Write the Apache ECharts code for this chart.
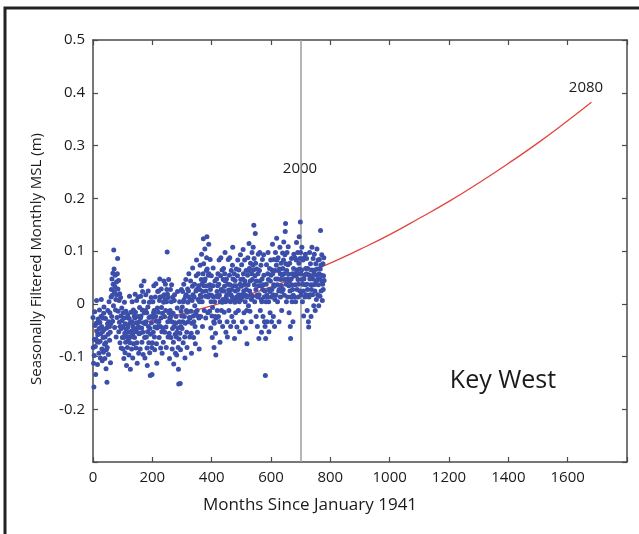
<!DOCTYPE html>
<html>
<head>
<meta charset="utf-8">
<script src="https://cdn.jsdelivr.net/npm/echarts@6/dist/echarts.min.js"></script>
<style>html,body{margin:0;padding:0;background:#fff;}#c{width:639px;height:534px;}</style>
</head>
<body>
<div id="c"></div>
<script>
// Seasonally filtered monthly MSL (m), month index 0 = January 1941
const mslMonthly = [
-0.026,-0.083,-0.113,-0.158,-0.098,-0.068,-0.015,-0.041,-0.081,-0.134,-0.067,-0.037,0.006,-0.052,-0.072,-0.115,-0.059,-0.029,-0.036,-0.073,
-0.094,-0.047,-0.012,-0.035,-0.071,-0.103,-0.057,-0.024,0.008,-0.043,-0.086,-0.108,-0.053,-0.027,-0.064,-0.092,-0.018,-0.006,-0.049,-0.077,
-0.104,-0.063,-0.028,-0.074,-0.123,-0.087,-0.046,-0.149,-0.083,-0.038,-0.013,-0.058,-0.096,-0.034,0.004,-0.043,-0.069,-0.017,-0.054,-0.112,
-0.038,0.013,0.027,-0.024,0.047,0.016,-0.033,0.058,0.037,-0.004,0.102,0.066,0.023,-0.045,0.032,0.054,-0.012,0.008,-0.063,0.041,
0.017,-0.026,0.057,0.086,0.028,-0.014,0.044,-0.053,0.006,-0.035,0.019,-0.074,-0.043,0.012,-0.023,-0.084,-0.047,-0.008,-0.032,-0.064,
-0.043,-0.086,-0.017,-0.064,-0.104,-0.027,0.003,-0.056,-0.093,-0.038,-0.073,-0.014,-0.048,-0.117,-0.062,-0.026,-0.083,-0.021,-0.044,-0.068,
-0.054,-0.097,-0.028,0.014,-0.037,-0.074,-0.124,-0.063,-0.016,-0.052,-0.086,-0.034,0.004,-0.058,-0.103,-0.043,-0.012,-0.076,-0.047,-0.023,
-0.064,-0.027,0.018,-0.016,-0.053,-0.084,-0.036,0.006,-0.074,-0.113,-0.047,-0.024,0.013,-0.043,-0.094,-0.057,-0.034,-0.007,-0.056,-0.086,
-0.027,0.014,-0.023,0.034,-0.046,-0.073,-0.012,0.023,-0.054,-0.096,-0.036,0.004,0.043,-0.017,-0.064,-0.103,-0.038,-0.013,0.017,-0.034,
-0.063,-0.017,-0.084,-0.117,-0.053,-0.006,0.024,-0.043,-0.074,-0.026,0.003,-0.093,-0.047,-0.136,-0.058,-0.024,0.012,-0.036,-0.083,-0.134,
-0.074,-0.026,0.004,-0.054,-0.017,0.034,-0.013,-0.063,-0.087,-0.044,0.013,-0.024,0.038,-0.033,-0.076,-0.113,-0.046,-0.008,0.023,-0.043,
-0.016,0.024,-0.034,-0.064,0.006,0.047,0.013,-0.043,-0.084,-0.027,0.028,-0.007,-0.053,-0.094,-0.018,0.014,-0.046,-0.073,0.003,0.043,
0.017,-0.024,-0.054,0.008,0.037,-0.013,-0.044,-0.083,0.004,0.027,0.098,0.018,-0.034,-0.063,0.012,0.046,-0.017,-0.056,-0.104,-0.027,
-0.013,0.027,-0.024,-0.064,0.004,0.036,-0.034,-0.086,-0.047,0.013,-0.018,-0.073,-0.114,-0.043,0.006,0.017,-0.036,-0.058,-0.094,-0.037,
-0.024,-0.063,-0.097,-0.054,-0.008,0.023,-0.046,-0.083,-0.124,-0.152,-0.067,-0.034,0.004,-0.056,-0.151,-0.087,-0.043,-0.014,0.027,-0.023,
-0.047,-0.006,0.023,-0.034,-0.074,0.004,0.037,0.008,-0.024,-0.063,-0.103,-0.037,0.014,0.046,0.017,-0.013,-0.054,-0.083,-0.016,0.028,
0.003,-0.034,0.024,0.057,0.013,-0.026,-0.063,-0.027,0.008,0.043,-0.014,-0.056,-0.094,-0.037,0.006,0.033,0.068,0.017,-0.023,-0.064,
-0.034,0.013,0.037,-0.004,-0.043,-0.076,-0.017,0.024,0.053,0.083,0.027,-0.013,-0.054,-0.023,0.008,0.057,0.034,-0.027,-0.086,0.004,
0.027,0.073,0.016,-0.024,0.013,0.046,0.094,0.037,0.004,-0.043,0.023,0.057,0.123,0.076,0.034,-0.013,0.043,0.104,0.047,0.014,
-0.027,0.024,0.063,0.087,0.127,0.066,0.034,-0.017,0.013,0.054,0.113,0.057,0.017,-0.014,0.036,0.084,0.027,-0.046,0.004,0.053,
0.016,-0.023,-0.064,-0.007,0.034,0.068,0.013,-0.034,-0.083,-0.037,0.004,0.043,-0.024,-0.056,-0.097,-0.027,0.014,0.047,0.023,-0.013,
0.034,0.057,0.013,-0.024,0.037,0.083,0.016,-0.034,-0.073,0.004,0.053,0.087,0.027,-0.013,0.024,0.064,0.003,-0.043,0.008,0.046,
0.067,0.024,-0.016,0.033,0.057,0.097,0.043,0.004,-0.054,0.013,0.047,0.017,-0.034,-0.063,0.006,0.037,0.084,0.026,-0.013,0.023,
0.054,0.087,0.036,0.004,-0.043,0.017,0.063,0.027,-0.024,0.013,0.073,0.107,0.047,0.008,-0.034,0.034,0.057,-0.066,0.003,0.044,
0.024,-0.017,0.034,0.066,0.013,-0.044,0.006,0.053,0.083,0.027,-0.013,0.017,0.064,0.004,-0.053,0.013,0.037,0.093,0.046,0.008,
0.033,0.074,0.017,-0.034,0.013,0.047,0.103,0.057,0.024,-0.017,0.036,0.083,0.043,0.004,-0.046,0.016,0.063,0.027,-0.013,-0.076,
0.013,0.054,0.087,0.036,-0.004,0.063,0.114,0.067,0.024,-0.014,0.043,0.077,0.017,-0.034,0.008,0.057,0.097,0.046,0.014,0.073,
0.107,0.064,0.149,0.086,0.036,0.004,0.053,0.133,0.077,0.027,-0.024,0.043,0.066,0.016,-0.043,0.013,0.057,0.094,0.034,-0.066,
0.017,0.063,0.097,0.043,-0.013,0.034,0.073,0.008,-0.054,0.004,0.047,0.084,0.027,-0.024,0.036,0.093,0.054,0.013,-0.034,0.024,
-0.043,-0.136,-0.066,0.004,0.037,0.074,0.016,-0.034,0.013,0.057,0.097,0.046,0.004,-0.053,0.027,0.067,0.023,-0.017,0.043,0.083,
0.054,0.013,-0.034,0.027,0.064,0.113,0.057,0.017,-0.024,0.036,0.084,0.033,-0.043,0.008,0.063,0.097,0.047,0.016,0.073,0.124,
0.083,0.036,0.004,0.047,0.087,0.063,0.024,-0.034,0.027,0.066,0.107,0.057,0.013,0.046,0.077,0.034,-0.013,0.023,0.054,0.096,
0.067,0.027,0.083,0.117,0.057,0.016,0.046,0.093,0.137,0.152,0.076,0.037,0.004,0.063,0.097,0.047,0.013,0.074,0.108,0.056,
0.034,-0.017,0.043,0.077,0.024,-0.043,-0.066,0.013,0.047,0.086,0.036,0.004,0.057,0.027,-0.034,0.016,0.067,0.094,0.053,0.013,
0.057,0.087,0.036,0.004,0.053,0.083,0.116,0.064,0.027,0.057,0.097,0.046,0.013,0.037,0.077,0.127,0.066,0.024,0.086,0.155,
0.097,0.057,0.017,0.064,0.107,0.046,0.004,0.037,0.083,0.024,-0.023,0.047,0.087,0.054,0.013,0.036,0.094,0.067,0.017,0.057,
0.086,0.037,-0.013,0.027,0.067,0.016,-0.034,-0.044,0.013,0.054,0.097,0.047,0.017,0.076,0.036,-0.024,0.027,0.064,0.107,0.053,
0.017,0.047,0.086,0.036,-0.004,0.057,0.094,0.064,0.024,-0.013,0.037,0.076,0.043,0.008,0.054,0.104,0.066,0.017,0.046,0.083,
0.036,-0.004,0.057,0.084,0.047,0.014,0.066,0.139,0.073,0.024,0.054,0.093,0.043,0.006,0.037,0.076,0.027,0.053,0.087,0.044
];
const firstMonth = 0;

// Fitted/projected trend curve (red)
const curveMonths = [0,100,200,300,400,500,600,700,800,900,1000,1100,1200,1300,1400,1500,1600,1680];
const curveMSL    = [-0.050,-0.042,-0.032,-0.019,-0.004,0.013,0.032,0.054,0.077,0.103,0.131,0.162,0.194,0.229,0.266,0.305,0.347,0.382];

// Marker for year 2000
const year2000Month = 700;

// Axis ticks
const xTicks = [0,200,400,600,800,1000,1200,1400,1600];
const yTicks = [-0.2,-0.1,0,0.1,0.2,0.3,0.4,0.5];

const FONT = 'Open Sans';
const chart = echarts.init(document.getElementById('c'), null, {renderer: 'canvas'});

const scatterData = mslMonthly.map((v, i) => [firstMonth + i, v]);
const curveData = curveMonths.map((m, i) => [m, curveMSL[i]]);

const axisLineStyle = {color: '#4a4a4a', width: 1.5};
const xCommon = {
  type: 'value', min: 0, max: 1800, interval: 200,
  splitLine: {show: false},
  axisLine: {show: true, onZero: false, lineStyle: axisLineStyle},
  axisTick: {show: true, inside: true, length: 5, lineStyle: {color: '#4a4a4a', width: 1.2}}
};
const yCommon = {
  type: 'value', min: -0.3, max: 0.5, interval: 0.1,
  splitLine: {show: false},
  axisLine: {show: true, onZero: false, lineStyle: axisLineStyle},
  axisTick: {show: true, inside: true, length: 5, lineStyle: {color: '#4a4a4a', width: 1.2}}
};

chart.setOption({
  backgroundColor: '#ffffff',
  animation: false,
  grid: {left: 93, right: 12, top: 40, bottom: 72},
  xAxis: [
    Object.assign({}, xCommon, {
      position: 'bottom',
      axisLabel: {
        margin: 8, fontFamily: FONT, fontSize: 15, color: '#1a1a1a',
        formatter: v => xTicks.indexOf(v) >= 0 ? String(v) : ''
      }
    }),
    Object.assign({}, xCommon, {position: 'top', axisLabel: {show: false}})
  ],
  yAxis: [
    Object.assign({}, yCommon, {
      position: 'left',
      axisLabel: {
        margin: 8, fontFamily: FONT, fontSize: 15, color: '#1a1a1a',
        formatter: v => {
          const r = Math.round(v * 10) / 10;
          if (!yTicks.some(t => Math.abs(t - r) < 1e-9)) return '';
          return r === 0 ? '0' : r.toFixed(1);
        }
      }
    }),
    Object.assign({}, yCommon, {position: 'right', axisLabel: {show: false}})
  ],
  series: [
    {
      type: 'line', data: curveData, symbol: 'none', smooth: true, z: 2,
      lineStyle: {color: '#e2453c', width: 1.3},
      markLine: {
        silent: true, symbol: 'none', label: {show: false}, z: 1,
        lineStyle: {color: '#9c9c9c', width: 1.5, type: 'solid'},
        data: [{xAxis: year2000Month}]
      }
    },
    {
      type: 'scatter', data: scatterData, symbol: 'circle', symbolSize: 5, z: 3,
      itemStyle: {color: '#3b4ea9', opacity: 1}
    }
  ],
  graphic: [
    {type: 'rect', shape: {x: 5, y: 8, width: 700, height: 600}, style: {fill: 'none', stroke: '#222', lineWidth: 3}, z: 100},
    {type: 'text', x: 300, y: 169, style: {text: '2000', font: '15px "' + FONT + '"', fill: '#1a1a1a', align: 'center', verticalAlign: 'middle'}},
    {type: 'text', x: 586, y: 88, style: {text: '2080', font: '15px "' + FONT + '"', fill: '#1a1a1a', align: 'center', verticalAlign: 'middle'}},
    {type: 'text', x: 503, y: 381, style: {text: 'Key West', font: '25px "' + FONT + '"', fill: '#1a1a1a', align: 'center', verticalAlign: 'middle'}},
    {type: 'text', x: 310, y: 505, style: {text: 'Months Since January 1941', font: '17px "' + FONT + '"', fill: '#1a1a1a', align: 'center', verticalAlign: 'middle'}},
    {type: 'text', x: 37, y: 259, rotation: Math.PI / 2, style: {text: 'Seasonally Filtered Monthly MSL (m)', font: '15px "' + FONT + '"', fill: '#1a1a1a', align: 'center', verticalAlign: 'middle'}}
  ]
});
</script>
</body>
</html>
